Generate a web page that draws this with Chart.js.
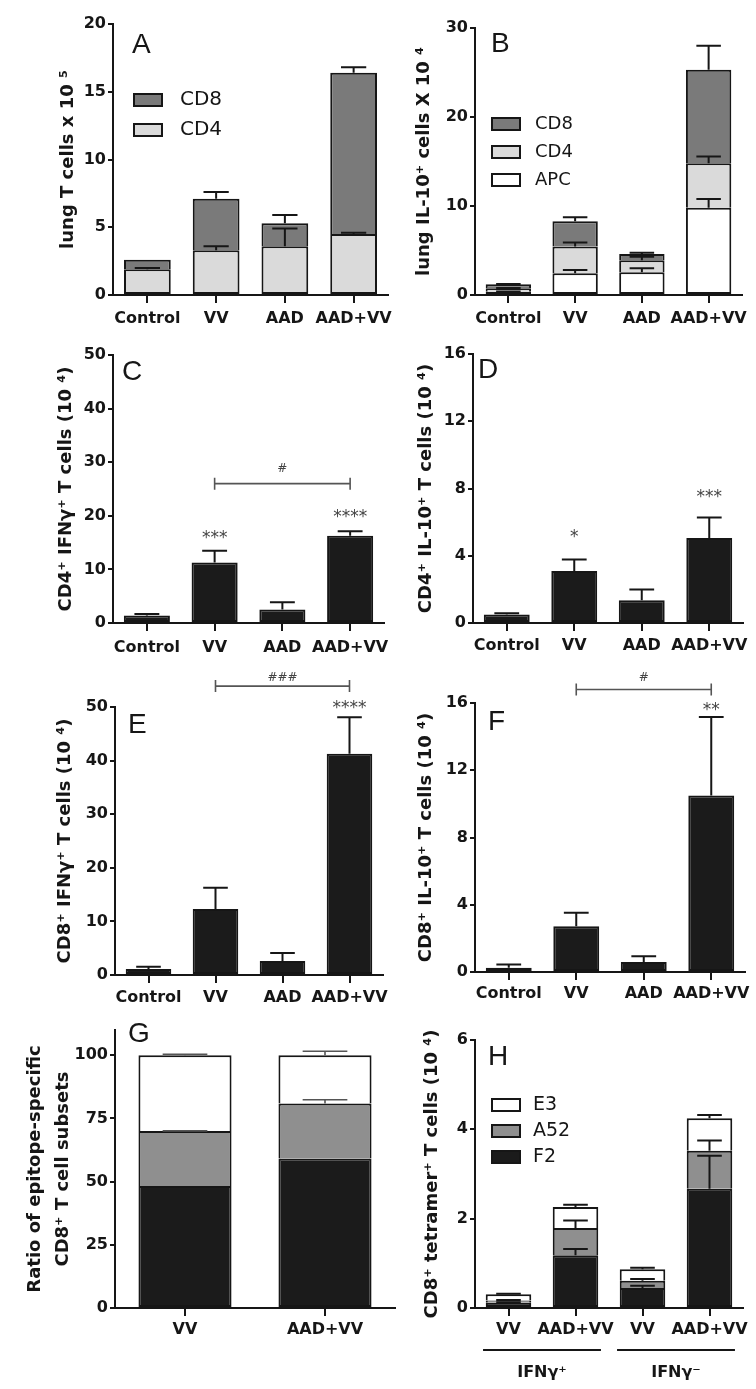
<!DOCTYPE html>
<html><head><meta charset="utf-8">
<script src="https://cdn.jsdelivr.net/npm/chart.js@4.4.1/dist/chart.umd.min.js"></script>
<style>
html,body{margin:0;padding:0;background:#fff;}
body{width:756px;height:1389px;position:relative;overflow:hidden;}
canvas{position:absolute;}
</style></head><body>
<canvas id="cA"></canvas><canvas id="cB"></canvas>
<canvas id="cC"></canvas><canvas id="cD"></canvas>
<canvas id="cE"></canvas><canvas id="cF"></canvas>
<canvas id="cG"></canvas><canvas id="cH"></canvas>
<script>
// ---------------- DATA ----------------
const CAT4 = ['Control', 'VV', 'AAD', 'AAD+VV'];

// Panel A: lung T cells x 10^5 (stacked segment sizes)
const aTicks = [0, 5, 10, 15, 20];
const aCD4 = [1.9, 3.3, 3.6, 4.5];
const aCD4Sem = [0.1, 0.3, 1.3, 0.1];
const aCD8 = [0.7, 3.8, 1.7, 11.9];
const aCD8Sem = [0, 0.5, 0.6, 0.4];

// Panel B: lung IL-10+ cells x 10^4
const bTicks = [0, 10, 20, 30];
const bAPC = [0.37, 2.45, 2.55, 9.8];
const bAPCSem = [0.03, 0.35, 0.45, 1.0];
const bCD4 = [0.38, 3.0, 1.35, 5.0];
const bCD4Sem = [0.05, 0.45, 0.4, 0.76];
const bCD8 = [0.45, 2.85, 0.7, 10.5];
const bCD8Sem = [0.05, 0.45, 0.15, 2.7];

// Panel C: CD4+ IFNg+ T cells (10^4)
const cTicks = [0, 10, 20, 30, 40, 50];
const cVals = [1.4, 11.3, 2.5, 16.3];
const cSem = [0.3, 2.2, 1.35, 0.8];

// Panel D: CD4+ IL-10+ T cells (10^4)
const dTicks = [0, 4, 8, 12, 16];
const dVals = [0.5, 3.1, 1.35, 5.05];
const dSem = [0.08, 0.67, 0.65, 1.22];

// Panel E: CD8+ IFNg+ T cells (10^4)
const eTicks = [0, 10, 20, 30, 40, 50];
const eVals = [1.1, 12.3, 2.6, 41.3];
const eSem = [0.45, 4.0, 1.5, 6.8];

// Panel F: CD8+ IL-10+ T cells (10^4)
const fTicks = [0, 4, 8, 12, 16];
const fVals = [0.25, 2.72, 0.6, 10.5];
const fSem = [0.2, 0.8, 0.33, 4.67];

// Panel G: ratio of epitope-specific CD8+ T cell subsets
const gCats = ['VV', 'AAD+VV'];
const gTicks = [0, 25, 50, 75, 100];
const gF2 = [48.3, 59.2];
const gF2Sem = [0, 0];
const gA52 = [21.7, 21.7];
const gA52Sem = [0.1, 1.5];
const gE3 = [30.0, 19.1];
const gE3Sem = [0.4, 1.6];

// Panel H: CD8+ tetramer+ T cells (10^4)
const hCats = ['VV', 'AAD+VV', 'VV', 'AAD+VV'];
const hGroupLabels = ['IFNγ⁺', 'IFNγ⁻'];
const hTicks = [0, 2, 4, 6];
const hF2 = [0.12, 1.18, 0.45, 2.67];
const hF2Sem = [0.01, 0.14, 0.05, 0.74];
const hA52 = [0.05, 0.61, 0.16, 0.85];
const hA52Sem = [0.01, 0.17, 0.04, 0.23];
const hE3 = [0.14, 0.47, 0.26, 0.73];
const hE3Sem = [0.01, 0.05, 0.03, 0.07];

// ---------------- STYLE ----------------
const INK = '#161616';
const C_BLACK = '#1b1b1b', C_DARK = '#7a7a7a', C_LIGHT = '#dadada', C_WHITE = '#ffffff', C_MID = '#8f8f8f';
const FONT = 'DejaVu Sans';

const panelPlugin = {
  id: 'panel',
  afterDatasetsDraw(chart, args, opts) {
    const ctx = chart.ctx, ys = chart.scales.y;
    ctx.save();
    ctx.strokeStyle = opts.errColor || INK;
    ctx.lineWidth = opts.errWidth || 2;
    chart.data.datasets.forEach((ds, di) => {
      if (!ds.errors) return;
      const meta = chart.getDatasetMeta(di);
      meta.data.forEach((bar, i) => {
        const e = ds.errors[i];
        if (!e) return;
        let top = 0;
        for (let k = 0; k <= di; k++) top += chart.data.datasets[k].data[i];
        const y0 = ys.getPixelForValue(top), y1 = ys.getPixelForValue(top + e);
        const hw = bar.width * (opts.capRatio || 0.27);
        ctx.beginPath();
        ctx.moveTo(bar.x, y0); ctx.lineTo(bar.x, y1);
        ctx.moveTo(bar.x - hw, y1); ctx.lineTo(bar.x + hw, y1);
        ctx.stroke();
      });
    });
    ctx.restore();
  },
  afterDraw(chart, args, opts) {
    const ctx = chart.ctx, ca = chart.chartArea, xs = chart.scales.x, ys = chart.scales.y;
    ctx.save();
    // panel letter
    if (opts.letter) {
      ctx.fillStyle = INK;
      ctx.font = '28px "Liberation Sans"';
      ctx.textAlign = 'left'; ctx.textBaseline = 'alphabetic';
      ctx.fillText(opts.letter, ca.left + opts.letterDx, ca.top + opts.letterDy);
    }
    // legend
    if (opts.legend) {
      const L = opts.legend;
      const items = chart.data.datasets.slice().reverse();
      items.forEach((ds, j) => {
        const x = ca.left + L.dx, y = ca.top + L.dy + j * L.gap;
        ctx.fillStyle = ds.backgroundColor;
        ctx.fillRect(x, y, 30, 14);
        ctx.strokeStyle = INK; ctx.lineWidth = 2;
        ctx.strokeRect(x + 1, y + 1, 28, 12);
        ctx.fillStyle = INK;
        ctx.font = L.size + 'px "' + FONT + '"';
        ctx.textAlign = 'left'; ctx.textBaseline = 'middle';
        ctx.fillText(ds.label, x + L.textDx, y + 7);
      });
    }
    // annotations (stars, brackets)
    (opts.notes || []).forEach(n => {
      if (n.bracket) {
        const x0 = xs.getPixelForValue(n.bracket[0]), x1 = xs.getPixelForValue(n.bracket[1]);
        const y = ys.getPixelForValue(n.y);
        ctx.strokeStyle = '#555'; ctx.lineWidth = 1.6;
        ctx.beginPath();
        ctx.moveTo(x0, y); ctx.lineTo(x1, y);
        ctx.moveTo(x0, y - 6); ctx.lineTo(x0, y + 6);
        ctx.moveTo(x1, y - 6); ctx.lineTo(x1, y + 6);
        ctx.stroke();
      } else {
        const x = xs.getPixelForValue(n.x), y = ys.getPixelForValue(n.y);
        ctx.fillStyle = '#444';
        ctx.font = n.size + 'px "' + FONT + '"';
        ctx.textAlign = 'center'; ctx.textBaseline = 'middle';
        const dy = n.text.indexOf('*') >= 0 ? 0.24 * n.size : 0;
        ctx.fillText(n.text, x, y + dy);
      }
    });
    // group labels under x axis
    (opts.groups || []).forEach(g => {
      const x0 = xs.getPixelForValue(g.from - 0.38), x1 = xs.getPixelForValue(g.to + 0.38);
      const y = ca.bottom + opts.groupDy;
      ctx.strokeStyle = INK; ctx.lineWidth = 2;
      ctx.beginPath(); ctx.moveTo(x0, y); ctx.lineTo(x1, y); ctx.stroke();
      ctx.fillStyle = INK;
      ctx.font = 'bold 16px "' + FONT + '"';
      ctx.textAlign = 'center'; ctx.textBaseline = 'middle';
      ctx.fillText(g.text, (x0 + x1) / 2, y + 23);
    });
    ctx.restore();
  }
};

function makePanel(id, p) {
  const [cl, ct, cw, ch] = p.box;
  const [L, T, R, B] = p.area;
  const cv = document.getElementById(id);
  cv.width = cw; cv.height = ch;
  cv.style.left = cl + 'px'; cv.style.top = ct + 'px';
  cv.style.width = cw + 'px'; cv.style.height = ch + 'px';
  const yW = L - cl, xH = ct + ch - B;
  const datasets = p.datasets.map((d, i) => ({
    label: d.label, data: d.data, errors: d.errors,
    backgroundColor: d.color, borderColor: INK, borderWidth: 2,
    borderSkipped: i === 0 ? false : 'start',
    barPercentage: p.barPct || 0.68, categoryPercentage: 1
  }));
  return new Chart(cv, {
    type: 'bar',
    data: { labels: p.labels, datasets },
    options: {
      responsive: false, animation: false, devicePixelRatio: 1, events: [],
      layout: { padding: { left: 0, top: T - ct, right: cl + cw - R, bottom: 0 } },
      plugins: {
        legend: { display: false }, tooltip: { enabled: false },
        panel: p.panel
      },
      scales: {
        x: {
          stacked: true,
          afterFit: s => { s.height = xH; },
          border: { display: true, color: INK, width: 2 },
          grid: { display: true, offset: false, drawOnChartArea: false, drawTicks: true, tickLength: 8, color: INK, lineWidth: 2 },
          ticks: { color: INK, font: { family: FONT, weight: 'bold', size: 16 }, padding: p.xPad, maxRotation: 0, autoSkip: false }
        },
        y: {
          stacked: true, min: 0, max: p.yMax,
          afterBuildTicks: s => { s.ticks = p.ticks.map(v => ({ value: v })); },
          afterFit: s => { s.width = yW; },
          border: { display: true, color: INK, width: 2 },
          grid: { display: true, drawOnChartArea: false, drawTicks: true, tickLength: 5, color: INK, lineWidth: 2 },
          ticks: { color: INK, font: { family: FONT, weight: 'bold', size: 16 }, padding: 2 },
          title: {
            display: true, text: p.title, color: INK,
            font: { family: FONT, weight: 'bold', size: 18, lineHeight: p.titleLH || 1 },
            padding: { top: p.titlePad, bottom: 0 }
          }
        }
      }
    },
    plugins: [panelPlugin]
  });
}

// ---------------- PANELS ----------------
makePanel('cA', {
  box: [0, 0, 400, 330], area: [113, 24, 388, 295], xPad: 6,
  labels: CAT4, yMax: 20, ticks: aTicks, title: 'lung T cells x 10 ⁵', titlePad: 59,
  datasets: [
    { label: 'CD4', data: aCD4, errors: aCD4Sem, color: C_LIGHT },
    { label: 'CD8', data: aCD8, errors: aCD8Sem, color: C_DARK }
  ],
  panel: { letter: 'A', letterDx: 19, letterDy: 29, legend: { dx: 20, dy: 69, gap: 30, size: 20, textDx: 47 } }
});

makePanel('cB', {
  box: [378, 0, 378, 330], area: [475, 28, 742, 295], xPad: 6,
  labels: CAT4, yMax: 30, ticks: bTicks, title: 'lung IL-10⁺ cells X 10 ⁴', titlePad: 37,
  datasets: [
    { label: 'APC', data: bAPC, errors: bAPCSem, color: C_WHITE },
    { label: 'CD4', data: bCD4, errors: bCD4Sem, color: C_LIGHT },
    { label: 'CD8', data: bCD8, errors: bCD8Sem, color: C_DARK }
  ],
  panel: { letter: 'B', letterDx: 16, letterDy: 24, legend: { dx: 16, dy: 89, gap: 28, size: 18, textDx: 44 } }
});

makePanel('cC', {
  box: [0, 330, 400, 330], area: [113, 355, 384, 623], xPad: 7,
  labels: CAT4, yMax: 50, ticks: cTicks, title: 'CD4⁺ IFNγ⁺ T cells (10 ⁴)', titlePad: 57,
  datasets: [{ label: 'CD4+ IFNγ+', data: cVals, errors: cSem, color: C_BLACK }],
  panel: {
    letter: 'C', letterDx: 9, letterDy: 25,
    notes: [
      { x: 1, y: 16.6, text: '***', size: 17 },
      { x: 3, y: 20.4, text: '****', size: 17 },
      { bracket: [1, 3], y: 26 },
      { x: 2, y: 28.7, text: '#', size: 12 }
    ]
  }
});

makePanel('cD', {
  box: [378, 330, 378, 330], area: [473, 354, 743, 623], xPad: 5.5,
  labels: CAT4, yMax: 16, ticks: dTicks, title: 'CD4⁺ IL-10⁺ T cells (10 ⁴)', titlePad: 39,
  datasets: [{ label: 'CD4+ IL-10+', data: dVals, errors: dSem, color: C_BLACK }],
  panel: {
    letter: 'D', letterDx: 5, letterDy: 24,
    notes: [
      { x: 1, y: 5.35, text: '*', size: 17 },
      { x: 3, y: 7.7, text: '***', size: 17 }
    ]
  }
});

makePanel('cE', {
  box: [0, 650, 400, 365], area: [115, 707, 383, 975], xPad: 5,
  labels: CAT4, yMax: 50, ticks: eTicks, title: 'CD8⁺ IFNγ⁺ T cells (10 ⁴)', titlePad: 56,
  datasets: [{ label: 'CD8+ IFNγ+', data: eVals, errors: eSem, color: C_BLACK }],
  panel: {
    letter: 'E', letterDx: 13, letterDy: 26,
    notes: [
      { x: 3, y: 50.5, text: '****', size: 17 },
      { bracket: [1, 3], y: 53.9 },
      { x: 2, y: 55.5, text: '###', size: 12 }
    ]
  }
});

makePanel('cF', {
  box: [378, 650, 378, 365], area: [475, 703, 745, 972], xPad: 4,
  labels: CAT4, yMax: 16, ticks: fTicks, title: 'CD8⁺ IL-10⁺ T cells (10 ⁴)', titlePad: 39,
  datasets: [{ label: 'CD8+ IL-10+', data: fVals, errors: fSem, color: C_BLACK }],
  panel: {
    letter: 'F', letterDx: 13, letterDy: 27,
    notes: [
      { x: 3, y: 15.8, text: '**', size: 17 },
      { bracket: [1, 3], y: 16.8 },
      { x: 2, y: 17.5, text: '#', size: 12 }
    ]
  }
});

makePanel('cG', {
  box: [0, 1015, 400, 374], area: [115, 1030, 395, 1308], xPad: 4.5, barPct: 0.665,
  labels: gCats, yMax: 110, ticks: gTicks,
  title: ['Ratio of epitope-specific', 'CD8⁺ T cell subsets'], titlePad: 21, titleLH: 28 / 18,
  datasets: [
    { label: 'F2', data: gF2, errors: gF2Sem, color: C_BLACK },
    { label: 'A52', data: gA52, errors: gA52Sem, color: C_MID },
    { label: 'E3', data: gE3, errors: gE3Sem, color: C_WHITE }
  ],
  panel: { letter: 'G', letterDx: 13, letterDy: 12, errColor: '#555', errWidth: 1.6, capRatio: 0.24 }
});

makePanel('cH', {
  box: [378, 1015, 378, 374], area: [475, 1040, 743, 1308], xPad: 4.5,
  labels: hCats, yMax: 6, ticks: hTicks, title: 'CD8⁺ tetramer⁺ T cells (10 ⁴)', titlePad: 45,
  datasets: [
    { label: 'F2', data: hF2, errors: hF2Sem, color: C_BLACK },
    { label: 'A52', data: hA52, errors: hA52Sem, color: C_MID },
    { label: 'E3', data: hE3, errors: hE3Sem, color: C_WHITE }
  ],
  panel: {
    letter: 'H', letterDx: 13, letterDy: 25,
    legend: { dx: 16, dy: 58, gap: 26, size: 19, textDx: 42 },
    groupDy: 42,
    groups: [
      { from: 0, to: 1, text: hGroupLabels[0] },
      { from: 2, to: 3, text: hGroupLabels[1] }
    ]
  }
});
</script>
</body></html>
